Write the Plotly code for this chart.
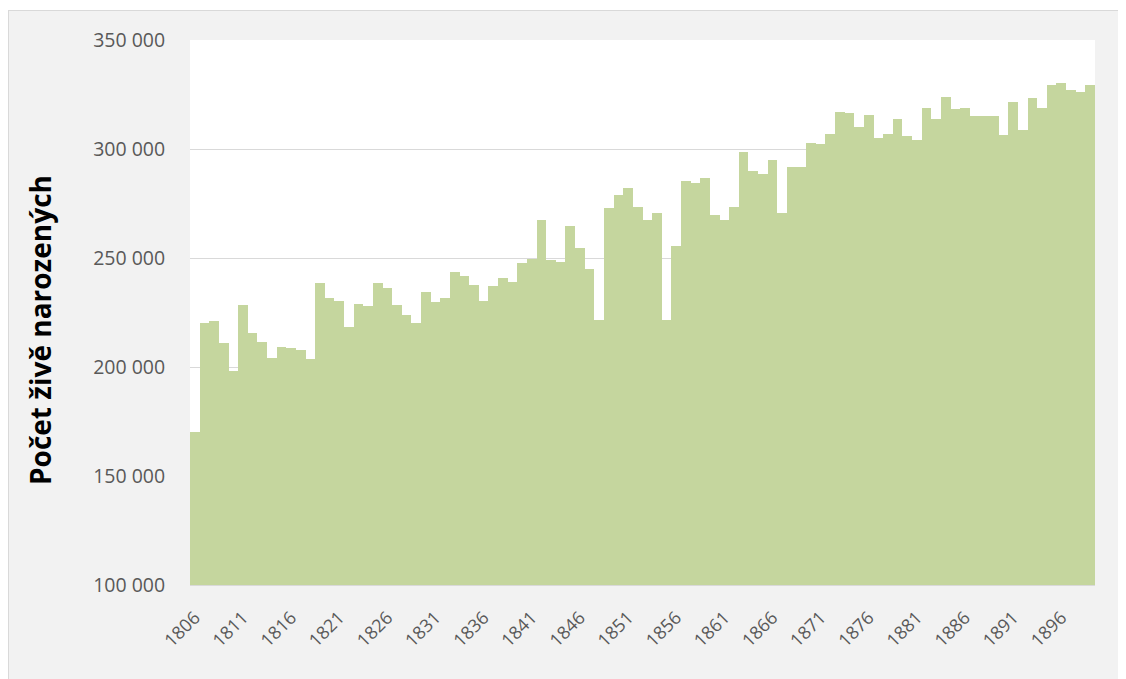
import plotly.graph_objects as go

years = list(range(1806, 1900))
births = [
    170000, 220000, 221200, 211100, 198000, 228400, 215500, 211500, 204000, 209200,
    208700, 207800, 203500, 238400, 231700, 230400, 218300, 228900, 227800, 238500,
    236100, 228600, 223900, 220000, 234400, 229700, 231500, 243600, 241700, 237800,
    230300, 237200, 240800, 239000, 247600, 249500, 267300, 249100, 248300, 264700,
    254400, 244800, 221400, 273100, 278800, 282100, 273500, 267400, 270600, 221400,
    255700, 285500, 284300, 286600, 269700, 267300, 273400, 298600, 289900, 288700,
    295000, 270800, 291600, 291600, 302800, 302400, 307000, 316800, 316700, 310000,
    315600, 305000, 306700, 313800, 305800, 304300, 319000, 313800, 323900, 318200,
    318700, 315300, 315200, 315300, 306600, 321600, 308700, 323300, 319000, 329200,
    330300, 326900, 326000, 329200,
]
y_ticks = [100000, 150000, 200000, 250000, 300000, 350000]
y_tick_labels = ["100 000", "150 000", "200 000", "250 000", "300 000", "350 000"]
x_ticks = [str(y) for y in range(1806, 1900, 5)]
y_title = "Počet živě narozených"

FONT = "Open Sans, Liberation Sans, Arial, sans-serif"

fig = go.Figure()
fig.add_trace(go.Bar(
    x=[str(y) for y in years],
    y=births,
    marker=dict(color="#c5d69e", line=dict(width=0)),
))

# figure is placed at page offset (8, 8) by the body margin
W, H = 1110, 671
L, T = 182, 32
PW, PH = 905, 545
R = W - L - PW
B = H - T - PH

def px(x):
    return (x - L) / PW

def py(y):
    return (T + PH - y) / PH

fig.update_layout(
    width=W, height=H,
    margin=dict(l=L, r=R, t=T, b=B),
    paper_bgcolor="#f2f2f2",
    plot_bgcolor="#ffffff",
    bargap=0,
    showlegend=False,
    font=dict(family=FONT, color="#595959", size=18),
    xaxis=dict(
        type="category",
        tickmode="array",
        tickvals=x_ticks,
        ticktext=x_ticks,
        tickangle=-45,
        ticks="outside", ticklen=14, tickcolor="rgba(0,0,0,0)",
        showgrid=False,
        showline=True, linecolor="#d9d9d9", linewidth=1,
        tickfont=dict(size=18, color="#595959", family=FONT),
    ),
    yaxis=dict(
        range=[100000, 350000],
        tickmode="array",
        tickvals=y_ticks,
        ticktext=y_tick_labels,
        ticks="outside", ticklen=20, tickcolor="rgba(0,0,0,0)",
        showgrid=True, gridcolor="#d9d9d9", gridwidth=1,
        zeroline=False,
        tickfont=dict(size=19.5, color="#595959", family=FONT),
    ),
    shapes=[
        dict(type="rect", xref="paper", yref="paper", x0=px(0), x1=px(W + 10), y0=py(0), y1=py(2),
             fillcolor="#ffffff", line=dict(width=0), layer="below"),
        dict(type="line", xref="paper", yref="paper", x0=px(0), x1=px(W + 10), y0=py(2.5), y1=py(2.5),
             line=dict(color="#d9d9d9", width=1)),
        dict(type="line", xref="paper", yref="paper", x0=px(0.5), x1=px(0.5), y0=py(2.5), y1=py(H + 10),
             line=dict(color="#d9d9d9", width=1)),
    ],
    annotations=[
        dict(text="<b>" + y_title + "</b>", xref="paper", yref="paper",
             x=px(32), y=py(322), textangle=-90, showarrow=False,
             font=dict(size=28, color="#000000", family=FONT),
             xanchor="center", yanchor="middle"),
    ],
)

fig.write_html("out.html")
